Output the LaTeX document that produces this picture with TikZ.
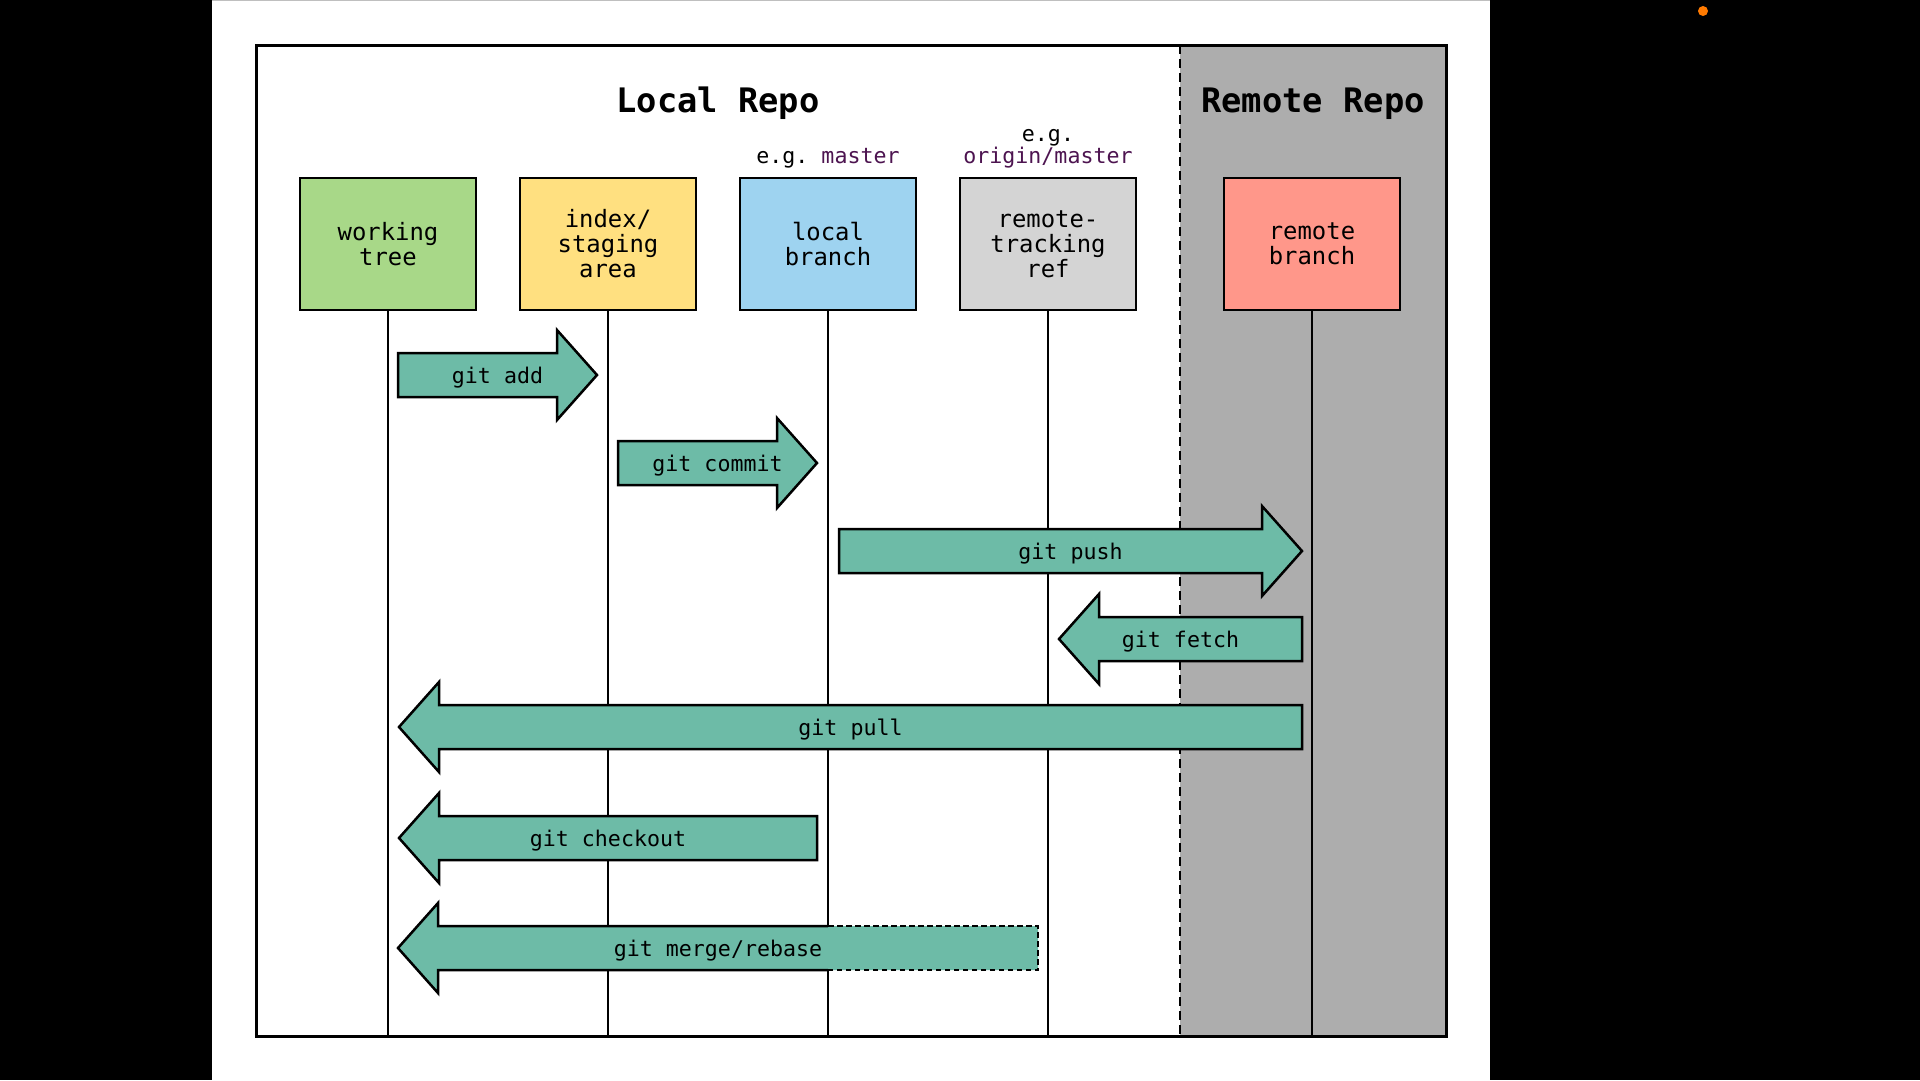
\documentclass[tikz,border=0pt]{standalone}
\usepackage{fontspec}
\setmonofont{DejaVu Sans Mono}
\usetikzlibrary{positioning}
\usetikzlibrary{calc}

\definecolor{screenblack}{HTML}{000000}
\definecolor{treegreen}{HTML}{A8D888}
\definecolor{stageyellow}{HTML}{FFE080}
\definecolor{branchblue}{HTML}{9ED3F0}
\definecolor{trackgray}{HTML}{D4D4D4}
\definecolor{remotesalmon}{HTML}{FF978A}
\definecolor{remotearea}{HTML}{ADADAD}
\definecolor{cmdteal}{HTML}{6DBBA7}
\definecolor{refpurple}{HTML}{4D1450}
\definecolor{dotorange}{HTML}{FF7A00}

\tikzset{
  area/.style={draw, line width=0.2mm, minimum width=17.6mm,
    minimum height=13.2mm, inner sep=0pt, align=center,
    font=\ttfamily\fontsize{6.8}{7.1}\selectfont},
  note/.style={inner sep=0pt, align=center,
    font=\ttfamily\fontsize{6.15}{6.3}\selectfont},
  title/.style={inner sep=0pt,
    font=\ttfamily\bfseries\fontsize{9.6}{11}\selectfont},
  lifeline/.style={line width=0.2mm},
  cmdarrow/.style={fill=cmdteal, draw, line width=0.25mm, line join=miter},
  cmd/.style={inner sep=0pt, yshift=-0.25mm,
    font=\ttfamily\fontsize{6.15}{7}\selectfont},
}

% block arrow from (name-tail) to (name-tip); dir 1 = right, -1 = left
\newcommand{\gitcmd}[4][]{%
  \draw[cmdarrow,#1] let \p1=(#2-tail), \p2=(#2-tip) in
    (\x1,\y1+2.2mm) -- ({\x2-(#3)*4mm},\y1+2.2mm)
    -- ({\x2-(#3)*4mm},\y1+4.5mm) -- (\x2,\y1)
    -- ({\x2-(#3)*4mm},\y1-4.5mm) -- ({\x2-(#3)*4mm},\y1-2.2mm)
    -- (\x1,\y1-2.2mm) -- cycle;
  \node[cmd] (#2) at ($(#2-tail)!0.5!(#2-tip)$) {#4};}

\begin{document}
\begin{tikzpicture}[x=0.1mm, y=-0.1mm]

    \useasboundingbox (0,0) rectangle (1920,1080);

    % screen round the slide
    \fill[screenblack] (0,0) rectangle (1920,1080);
    \fill[white] (212,0) rectangle (1490,1080);
    \draw[gray!50, line width=0.1mm] (212,0.5) -- (1490,0.5);
    \fill[dotorange] (1703,11) circle (0.5mm);

    % local and remote repo
    \coordinate (frame-nw) at (256,45);
    \coordinate (frame-se) at (1446,1036);
    \coordinate (split) at (1180,45);
    \fill[remotearea] (split) rectangle (frame-se);
    \draw[line width=0.2mm, dash pattern=on 0.9mm off 0.5mm]
      (split) -- (split |- frame-se);
    \draw[line width=0.3mm] (frame-nw) rectangle (frame-se);

    \node[title, anchor=base] (localtitle) at (718,112) {Local Repo};
    \node[title, anchor=base] (remotetitle) at (1313,112) {Remote Repo};

    \node[area, fill=treegreen]
      (tree) at (388,244) {working\\tree};
    \node[area, fill=stageyellow]
      (index) [right=4.2mm of tree] {index/\\staging\\area};
    \node[area, fill=branchblue]
      (local) [right=4.2mm of index] {local\\branch};
    \node[area, fill=trackgray]
      (track) [right=4.2mm of local] {remote-\\tracking\\ref};
    \node[area, fill=remotesalmon]
      (remote) [right=8.6mm of track] {remote\\branch};

    \node[note] (localnote) [above=0.85mm of local]
      {e.g. \textcolor{refpurple}{master}};
    \node[note] (tracknote) [above=0.85mm of track]
      {e.g.\\\textcolor{refpurple}{origin/master}};

    \foreach \lane in {tree,index,local,track,remote}
      \draw[lifeline] (\lane.south) -- (\lane.south |- frame-se);

    % commands
    \coordinate (add-tail) at (398,375);
    \coordinate (add-tip) at (597,375);
    \coordinate (commit-tail) at (618,463);
    \coordinate (commit-tip) at (817,463);
    \coordinate (push-tail) at (839,551);
    \coordinate (push-tip) at (1302,551);
    \coordinate (fetch-tail) at (1302,639);
    \coordinate (fetch-tip) at (1059,639);
    \coordinate (pull-tail) at (1302,727);
    \coordinate (pull-tip) at (399,727);
    \coordinate (checkout-tail) at (817,838);
    \coordinate (checkout-tip) at (399,838);
    \coordinate (merge-tail) at (1038,948);
    \coordinate (merge-tip) at (398,948);

    \gitcmd{add}{1}{git add}
    \gitcmd{commit}{1}{git commit}
    \gitcmd{push}{1}{git push}
    \gitcmd{fetch}{-1}{git fetch}
    \gitcmd{pull}{-1}{git pull}
    \gitcmd{checkout}{-1}{git checkout}
    \gitcmd[draw=none]{merge}{-1}{git merge/rebase}
    \draw[cmdarrow, fill=none]
      (828,926) -- (438,926) -- (438,903) -- (merge-tip)
      -- (438,993) -- (438,970) -- (828,970);
    \draw[cmdarrow, fill=none, dash pattern=on 0.55mm off 0.35mm]
      (828,926) -- (merge-tail |- 0,926) -- (merge-tail |- 0,970) -- (828,970);

\end{tikzpicture}
\end{document}
